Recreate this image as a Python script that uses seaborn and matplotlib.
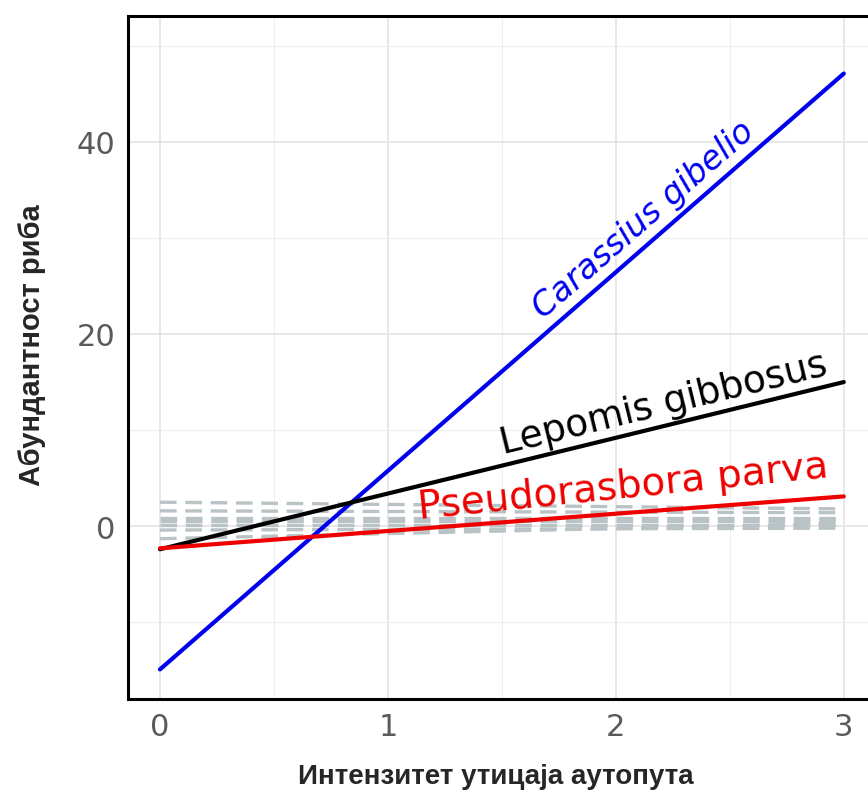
import matplotlib
matplotlib.use("Agg")
import matplotlib.pyplot as plt
import seaborn as sns
import numpy as np

# regression end points at x = 0 and x = 3
x_ends = [0, 3]

species = ["Carassius gibelio", "Lepomis gibbosus", "Pseudorasbora parva"]
sp_start = [-14.9, -2.4, -2.3]
sp_end = [47.1, 15.0, 3.1]
sp_colors = ["#0000ee", "#000000", "#ee0000"]
sp_italic = [True, False, False]

# non-significant species (grey dashed)
other_start = [2.5, 1.6, 0.9, 0.5, 0.1, -0.4, -1.3]
other_end = [1.8, 1.4, 0.9, 0.5, 0.1, -0.2, 0.3]

x_ticks = [0, 1, 2, 3]
y_ticks = [0, 20, 40]

sns.set_theme(style="whitegrid")
plt.rcParams["font.family"] = ["DejaVu Sans"]

fig = plt.figure(figsize=(8.68, 8.03), dpi=100)
ax = fig.add_axes([0.1475, 0.128, 0.864, 0.851])

for s, e in zip(other_start, other_end):
    sns.lineplot(x=x_ends, y=[s, e], ax=ax, color="#b9c3c6", lw=2.4,
                 linestyle=(0, (5, 2.6)), zorder=2)

for name, s, e, c in zip(species, sp_start, sp_end, sp_colors):
    sns.lineplot(x=x_ends, y=[s, e], ax=ax, color=c, lw=3.0, zorder=3)

ax.set_xlim(-0.14, 3.15)
ax.set_ylim(-18.0, 53.1)
ax.set_xticks(x_ticks)
ax.set_yticks(y_ticks)
ax.set_xticks([0.5, 1.5, 2.5], minor=True)
ax.set_yticks([-10, 10, 30, 50], minor=True)
ax.grid(which="major", color="#e4e4e4", lw=1.2)
ax.grid(which="minor", color="#eeeeee", lw=0.8)

for side in ["left", "bottom", "top"]:
    ax.spines[side].set_color("black")
    ax.spines[side].set_linewidth(2.2)
ax.spines["right"].set_visible(False)

ax.tick_params(axis="both", which="major", length=5, width=1.2, color="#444444",
               labelsize=22, labelcolor="#5a5a5a", pad=4)
ax.tick_params(axis="both", which="minor", length=0)

lab_font = ["Liberation Sans Narrow", "Liberation Sans", "DejaVu Sans"]
ax.set_xlabel("Интензитет утицаја аутопута", fontsize=20, fontweight="bold",
              family=lab_font, labelpad=16, x=0.49)
ax.set_ylabel("Абундантност риба", fontsize=21, fontweight="bold",
              family=lab_font, labelpad=22, y=0.52)

# labels sitting just above their lines
label_x = [1.72, 1.52, 1.14]
label_size = [24, 27, 28]
label_gap = [4, 3, 2]
fig.canvas.draw()
for name, lx, s, e, c, it, fs, gap in zip(species, label_x, sp_start, sp_end,
                                          sp_colors, sp_italic, label_size,
                                          label_gap):
    p0 = ax.transData.transform((x_ends[0], s))
    p1 = ax.transData.transform((x_ends[1], e))
    ang = np.degrees(np.arctan2(p1[1] - p0[1], p1[0] - p0[0]))
    if name == "Pseudorasbora parva":
        ang += 1.5
    ly = s + (e - s) * (lx - x_ends[0]) / (x_ends[1] - x_ends[0])
    a = np.radians(ang)
    ax.annotate(name, xy=(lx, ly), xytext=(-np.sin(a) * gap, np.cos(a) * gap),
                textcoords="offset points", color=c, fontsize=fs, rotation=ang,
                rotation_mode="anchor", ha="left", va="bottom",
                style="italic" if it else "normal", zorder=4)

fig.savefig("out.png", dpi=100)
